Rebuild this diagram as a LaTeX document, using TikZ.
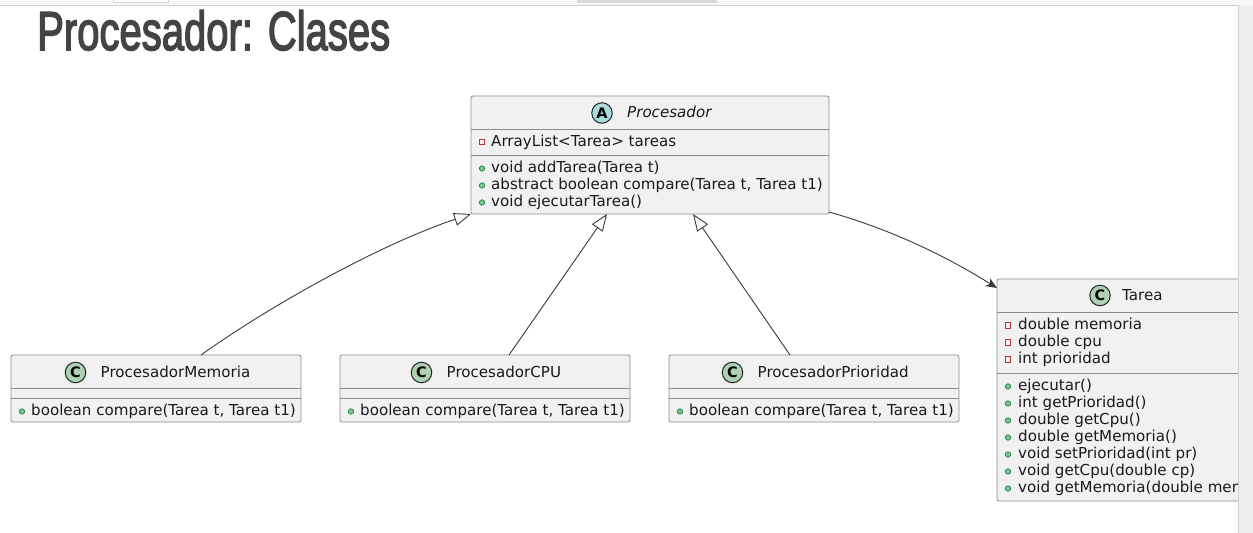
\documentclass[tikz,border=0pt]{standalone}
\usepackage{fontspec}
\setmainfont{DejaVu Sans}
\newfontfamily\titlefont[FakeBold=3]{Liberation Sans}
\usetikzlibrary{arrows.meta,calc}
\definecolor{boxfill}{HTML}{F1F1F1}
\definecolor{boxline}{HTML}{8E8E8E}
\definecolor{edgecol}{HTML}{3A3A3A}
\definecolor{privred}{HTML}{C82930}
\definecolor{pubgreen}{HTML}{84BE84}
\definecolor{pubdark}{HTML}{038048}
\definecolor{absfill}{HTML}{A9DCDF}
\definecolor{clsfill}{HTML}{ADD1B2}
\definecolor{titlegray}{HTML}{444444}
\definecolor{stripgray}{HTML}{EDEDF0}
\definecolor{topgray}{HTML}{F7F7F7}
\definecolor{toplines}{HTML}{D2D2D2}
\definecolor{barcol}{HTML}{D8D8DC}
\tikzset{
  classbox/.style={draw=boxline, fill=boxfill, rounded corners=2bp, line width=0.8bp,
    inner sep=0pt, outer sep=0pt, anchor=north west},
  sepline/.style={draw=boxline, line width=0.8bp},
  member/.style={anchor=base west, inner sep=0pt, text=black!90,
    font=\fontsize{15.15}{17}\selectfont},
  cname/.style={member},
  aname/.style={member, font=\fontsize{15.15}{17}\selectfont\itshape},
  ciconA/.style={circle, draw=black!85, line width=1bp, fill=absfill, minimum size=20.5bp,
    inner sep=0pt, font=\fontsize{14.5}{14.5}\selectfont\bfseries},
  ciconC/.style={ciconA, fill=clsfill},
  privicon/.style={rectangle, draw=privred, line width=0.8bp, minimum size=5.5bp, inner sep=0pt},
  pubicon/.style={circle, draw=pubdark, fill=pubgreen, line width=0.6bp, minimum size=5.5bp, inner sep=0pt},
  inherit/.style={draw=edgecol, line width=0.9bp,
    -{Triangle[open, length=17bp, width=13bp, fill=white]}},
  assoc/.style={draw=edgecol, line width=0.9bp, -{Stealth[length=11bp, width=9bp, inset=3bp]}},
}
\begin{document}
\begin{tikzpicture}[x=1bp, y=-1bp]
\useasboundingbox (0,0) rectangle (1253,533);
\fill[white] (0,0) rectangle (1253,533);
% browser chrome
\fill[topgray] (0,0) rectangle (1253,5);
\draw[toplines, line width=0.8bp] (0,5) -- (1253,5);
\draw[toplines, line width=0.6bp, fill=white] (113,-1) rectangle (168,2.5);
\fill[barcol] (577,0) rectangle (717,3);

% title
\node[anchor=base west, inner sep=0pt, text=titlegray] (title) at (37,50)
  {\resizebox{353bp}{\height}{\titlefont\fontsize{55}{60}\selectfont Procesador: Clases}};

% ---------- Procesador ----------
\node[classbox, minimum width=358bp, minimum height=118bp] (proc) at (471,96) {};
\draw[sepline] (471,129) -- (829,129);
\draw[sepline] (471,155) -- (829,155);
\node[ciconA] (procicon) at (602,113) {A};
\node[aname] (procname) at (627,118) {Procesador};
\node[privicon] (pi1) at (482,142) {};
\node[member] (pa1) at (491,147) {ArrayList<Tarea> tareas};
\node[pubicon] (pm1i) at (482,168.5) {};
\node[member] (pm1) at (491,172.5) {void addTarea(Tarea t)};
\node[pubicon] (pm2i) at (482,185.5) {};
\node[member] (pm2) at (491,189.5) {abstract boolean compare(Tarea t, Tarea t1)};
\node[pubicon] (pm3i) at (482,202.5) {};
\node[member] (pm3) at (491,206.5) {void ejecutarTarea()};

% ---------- subclasses ----------
\node[classbox, minimum width=290bp, minimum height=67bp] (pmem) at (11,355) {};
\draw[sepline] (11,388) -- (301,388);
\draw[sepline] (11,398) -- (301,398);
\node[ciconC] (pmemicon) at (75.5,372.5) {C};
\node[cname] (pmemname) at (100.5,377.5) {ProcesadorMemoria};
\node[pubicon] (pmemmi) at (22,411.5) {};
\node[member] (pmemm) at (31,415.5) {boolean compare(Tarea t, Tarea t1)};

\node[classbox, minimum width=290bp, minimum height=67bp] (pcpu) at (340,355) {};
\draw[sepline] (340,388) -- (630,388);
\draw[sepline] (340,398) -- (630,398);
\node[ciconC] (pcpuicon) at (421.5,372.5) {C};
\node[cname] (pcpuname) at (446.5,377.5) {ProcesadorCPU};
\node[pubicon] (pcpumi) at (351,411.5) {};
\node[member] (pcpum) at (360,415.5) {boolean compare(Tarea t, Tarea t1)};

\node[classbox, minimum width=290bp, minimum height=67bp] (ppri) at (669,355) {};
\draw[sepline] (669,388) -- (959,388);
\draw[sepline] (669,398) -- (959,398);
\node[ciconC] (ppriicon) at (732.5,372.5) {C};
\node[cname] (ppriname) at (757.5,377.5) {ProcesadorPrioridad};
\node[pubicon] (pprimi) at (680,411.5) {};
\node[member] (pprim) at (689,415.5) {boolean compare(Tarea t, Tarea t1)};

% ---------- Tarea ----------
\begin{scope}
\clip (990,270) rectangle (1238,510);
\node[classbox, minimum width=290bp, minimum height=222bp] (tarea) at (997,279) {};
\draw[sepline] (997,312) -- (1287,312);
\draw[sepline] (997,373) -- (1287,373);
\node[ciconC] (tareaicon) at (1100,295.5) {C};
\node[cname] (tareaname) at (1122,300.5) {Tarea};
\node[privicon] (ta1i) at (1008,325.5) {};
\node[member] (ta1) at (1018,329.5) {double memoria};
\node[privicon] (ta2i) at (1008,342.5) {};
\node[member] (ta2) at (1018,346.5) {double cpu};
\node[privicon] (ta3i) at (1008,359.5) {};
\node[member] (ta3) at (1018,363.5) {int prioridad};
\node[pubicon] (tm1i) at (1008,386.5) {};
\node[member] (tm1) at (1018,390.5) {ejecutar()};
\node[pubicon] (tm2i) at (1008,403.5) {};
\node[member] (tm2) at (1018,407.5) {int getPrioridad()};
\node[pubicon] (tm3i) at (1008,420.5) {};
\node[member] (tm3) at (1018,424.5) {double getCpu()};
\node[pubicon] (tm4i) at (1008,437.5) {};
\node[member] (tm4) at (1018,441.5) {double getMemoria()};
\node[pubicon] (tm5i) at (1008,454.5) {};
\node[member] (tm5) at (1018,458.5) {void setPrioridad(int pr)};
\node[pubicon] (tm6i) at (1008,471.5) {};
\node[member] (tm6) at (1018,475.5) {void getCpu(double cp)};
\node[pubicon] (tm7i) at (1008,488.5) {};
\node[member] (tm7) at (1018,492.5) {void getMemoria(double memoria)};
\end{scope}

% right scrollbar strip
\fill[stripgray] (1238,5.4) rectangle (1253,533);
\draw[toplines, line width=0.6bp] (1238,5.4) -- (1238,533);

% ---------- connectors ----------
\draw[inherit] ([xshift=45bp]pmem.north) .. controls +(70,-50) and +(-90,30) .. (proc.south west);
\draw[inherit] ([xshift=24bp]pcpu.north) -- ([xshift=-43bp]proc.south);
\draw[inherit] ([xshift=-24bp]ppri.north) -- ([xshift=43bp]proc.south);
\draw[assoc] ([yshift=2bp]proc.south east) .. controls +(57,16) and +(-56,-35) .. ([yshift=-9bp]tarea.north west);
\end{tikzpicture}
\end{document}
